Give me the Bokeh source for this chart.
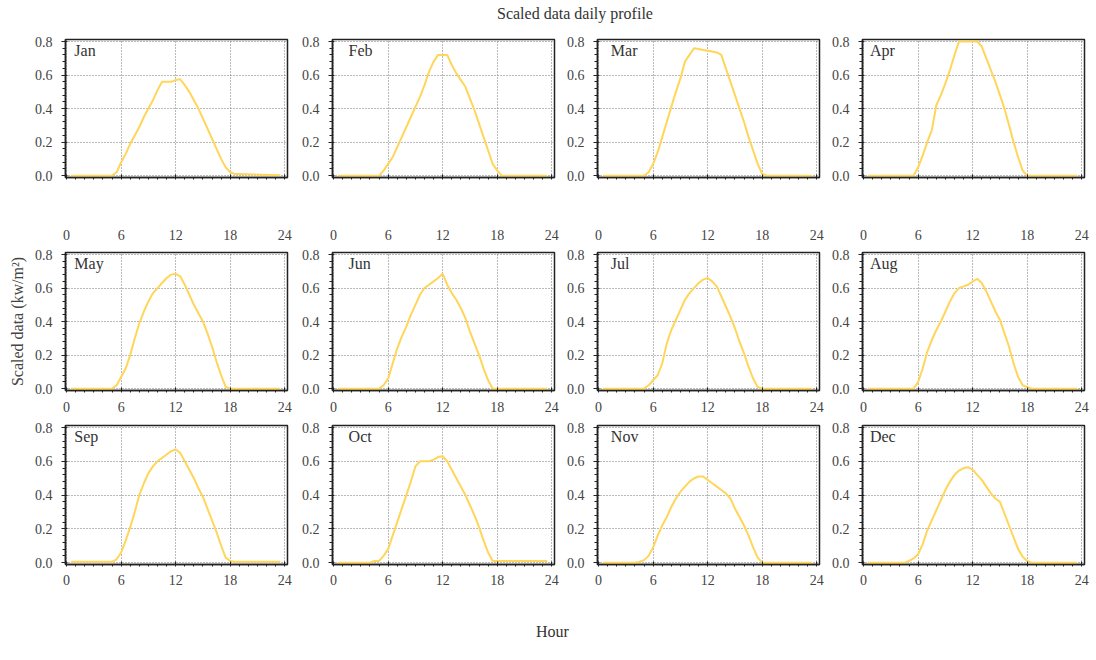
from bokeh.plotting import figure
from bokeh.models import Range1d, FixedTicker, Label, Div, PrintfTickFormatter
from bokeh.layouts import column, row
from bokeh.embed import file_html
from bokeh.resources import INLINE

months = ["Jan", "Feb", "Mar", "Apr", "May", "Jun",
          "Jul", "Aug", "Sep", "Oct", "Nov", "Dec"]

hours = [0.5, 4.0, 4.5, 5.0, 5.5, 6.0, 6.5, 7.0, 7.5, 8.0, 8.5, 9.0, 9.5, 10.0, 10.5,
         11.0, 11.5, 12.0, 12.5, 13.0, 13.5, 14.0, 14.5, 15.0, 15.5, 16.0, 16.5,
         17.0, 17.5, 18.0, 18.5, 19.0, 23.5]

jan = [0, 0, 0, 0, 0.02, 0.08, 0.13, 0.19, 0.24, 0.29, 0.35, 0.40, 0.45, 0.51, 0.56,
       0.56, 0.56, 0.57, 0.575, 0.54, 0.50, 0.45, 0.40, 0.34, 0.28, 0.22, 0.16,
       0.10, 0.05, 0.02, 0.01, 0.01, 0.003]
feb = [0, 0, 0, 0, 0.03, 0.07, 0.11, 0.17, 0.23, 0.29, 0.35, 0.41, 0.47, 0.54, 0.62,
       0.68, 0.72, 0.72, 0.72, 0.66, 0.61, 0.57, 0.53, 0.46, 0.39, 0.31, 0.23,
       0.15, 0.07, 0.03, 0, 0, 0]
mar = [0, 0, 0, 0, 0.02, 0.07, 0.14, 0.23, 0.32, 0.41, 0.50, 0.58, 0.68, 0.72, 0.76,
       0.755, 0.75, 0.745, 0.74, 0.735, 0.72, 0.64, 0.56, 0.48, 0.40, 0.32, 0.23,
       0.15, 0.07, 0.01, 0, 0, 0]
apr = [0, 0, 0, 0, 0.0, 0.05, 0.12, 0.20, 0.27, 0.42, 0.48, 0.55, 0.63, 0.72, 0.80,
       0.80, 0.80, 0.80, 0.80, 0.77, 0.70, 0.63, 0.56, 0.48, 0.40, 0.30, 0.20,
       0.11, 0.03, 0.0, 0, 0, 0]
may = [0, 0, 0, 0, 0.02, 0.07, 0.12, 0.20, 0.30, 0.39, 0.46, 0.52, 0.57, 0.60, 0.63,
       0.66, 0.68, 0.685, 0.67, 0.62, 0.56, 0.50, 0.45, 0.40, 0.33, 0.25, 0.16,
       0.08, 0.01, 0, 0, 0, 0]
jun = [0, 0, 0, 0, 0.02, 0.06, 0.15, 0.24, 0.31, 0.37, 0.44, 0.50, 0.56, 0.60, 0.62,
       0.64, 0.66, 0.685, 0.62, 0.57, 0.53, 0.48, 0.42, 0.34, 0.27, 0.20, 0.12,
       0.05, 0.0, 0, 0, 0, 0]
jul = [0, 0, 0, 0, 0.02, 0.05, 0.08, 0.15, 0.27, 0.35, 0.41, 0.47, 0.53, 0.57, 0.60,
       0.63, 0.65, 0.66, 0.64, 0.61, 0.55, 0.49, 0.43, 0.36, 0.28, 0.21, 0.13,
       0.06, 0.01, 0, 0, 0, 0]
aug = [0, 0, 0, 0, 0.0, 0.04, 0.12, 0.22, 0.29, 0.35, 0.40, 0.46, 0.52, 0.57, 0.60,
       0.61, 0.62, 0.64, 0.655, 0.63, 0.58, 0.52, 0.46, 0.41, 0.33, 0.25, 0.15,
       0.07, 0.02, 0.01, 0, 0, 0]
sep = [0.005, 0.005, 0.005, 0.005, 0.02, 0.06, 0.13, 0.21, 0.30, 0.40, 0.47, 0.53, 0.57,
       0.60, 0.62, 0.64, 0.66, 0.67, 0.65, 0.60, 0.55, 0.50, 0.44, 0.39, 0.32, 0.25,
       0.18, 0.10, 0.03, 0.01, 0.005, 0.005, 0.005]
oct_ = [0, 0, 0.01, 0.01, 0.04, 0.08, 0.16, 0.24, 0.32, 0.40, 0.48, 0.57, 0.60, 0.60,
        0.60, 0.61, 0.625, 0.63, 0.60, 0.55, 0.50, 0.45, 0.40, 0.34, 0.28, 0.21,
        0.13, 0.06, 0.01, 0.01, 0.01, 0.01, 0.01]
nov = [0, 0, 0.005, 0.015, 0.04, 0.09, 0.16, 0.22, 0.27, 0.33, 0.38, 0.42, 0.45, 0.48,
       0.50, 0.51, 0.51, 0.49, 0.47, 0.45, 0.43, 0.41, 0.38, 0.32, 0.27, 0.22, 0.16,
       0.09, 0.03, 0.0, 0, 0, 0]
dec = [0, 0, 0.0, 0.01, 0.025, 0.05, 0.11, 0.19, 0.25, 0.31, 0.37, 0.43, 0.48, 0.52,
       0.545, 0.56, 0.565, 0.55, 0.52, 0.49, 0.45, 0.41, 0.38, 0.36, 0.29, 0.22,
       0.15, 0.08, 0.035, 0.01, 0, 0, 0]

series = [jan, feb, mar, apr, may, jun, jul, aug, sep, oct_, nov, dec]

x_major = [0, 6, 12, 18, 24]
x_minor = list(range(25))
y_major = [0.0, 0.2, 0.4, 0.6, 0.8]
y_minor = [round(0.04 * k, 2) for k in range(21)]

FONT = "Liberation Serif"
LINE_COLOR = "#FFD55A"

col_left = [65, 36, 35, 35]
col_right = [9, 8, 8, 8]
row_top = [7, 7, 7]
row_bottom = [68, 28, 30]
row_standoff = [50, 9, 8]
frame_h = [138, 138, 139]
label_dx = [0.85, 1.65, 1.35, 0.7]

figs = []
for i, (m, ys) in enumerate(zip(months, series)):
    r, c = divmod(i, 4)
    w = col_left[c] + 222 + col_right[c]
    h = row_top[r] + frame_h[r] + row_bottom[r]
    p = figure(width=w, height=h, output_backend="svg", toolbar_location=None,
               x_range=Range1d(-0.12, 24.3), y_range=Range1d(-0.011, 0.812),
               min_border_left=col_left[c], min_border_right=col_right[c],
               min_border_top=row_top[r], min_border_bottom=row_bottom[r])
    p.line(hours, ys, line_color=LINE_COLOR, line_width=2)

    p.xaxis.ticker = FixedTicker(ticks=x_major, minor_ticks=x_minor)
    p.yaxis.ticker = FixedTicker(ticks=y_major, minor_ticks=y_minor)
    p.yaxis.formatter = PrintfTickFormatter(format="%.1f")

    for ax in (p.xaxis[0], p.yaxis[0]):
        ax.axis_line_color = "#222222"
        ax.axis_line_width = 1.5
        ax.major_tick_line_color = "#222222"
        ax.minor_tick_line_color = "#222222"
        ax.major_label_text_font = FONT
        ax.major_label_text_font_size = "14px"
        ax.major_label_text_color = "#444444"
    p.xaxis.major_tick_in = 3
    p.xaxis.major_tick_out = 0
    p.xaxis.minor_tick_in = 0
    p.xaxis.minor_tick_out = 2
    p.xaxis.major_label_standoff = row_standoff[r]
    p.yaxis.major_tick_in = 2
    p.yaxis.major_tick_out = 4
    p.yaxis.minor_tick_in = 0
    p.yaxis.minor_tick_out = 3
    p.yaxis.major_label_standoff = 9

    for g in (p.xgrid[0], p.ygrid[0]):
        g.grid_line_color = "#777777"
        g.grid_line_dash = "1 2"
        g.grid_line_width = 1

    p.outline_line_color = "#222222"
    p.outline_line_width = 1.5
    p.background_fill_color = "white"
    p.border_fill_color = "white"

    p.add_layout(Label(x=label_dx[c], y=0.80, text=m, text_baseline="top",
                       text_font=FONT, text_font_size="16px", text_color="#333333"))

    if m == "May":
        p.yaxis.axis_label = "Scaled data (kw/m²)"
        p.yaxis.axis_label_text_font = FONT
        p.yaxis.axis_label_text_font_size = "16px"
        p.yaxis.axis_label_text_font_style = "normal"
        p.yaxis.axis_label_text_color = "#444444"
        p.yaxis.axis_label_standoff = 6
    figs.append(p)

title_div = Div(text="Scaled data daily profile", width=300, height=16,
                margin=(6, 0, 10, 497),
                styles={"font-family": FONT, "font-size": "16px", "line-height": "16px",
                        "color": "#333333", "white-space": "nowrap"})
hour_div = Div(text="Hour", width=60, height=16, margin=(30, 0, 0, 536),
               styles={"font-family": FONT, "font-size": "16px", "line-height": "16px",
                       "color": "#333333", "white-space": "nowrap"})

layout = column([title_div,
                 row(figs[0:4], spacing=0),
                 row(figs[4:8], spacing=0),
                 row(figs[8:12], spacing=0),
                 hour_div], spacing=0)

open("out.html", "w").write(file_html(layout, INLINE))
